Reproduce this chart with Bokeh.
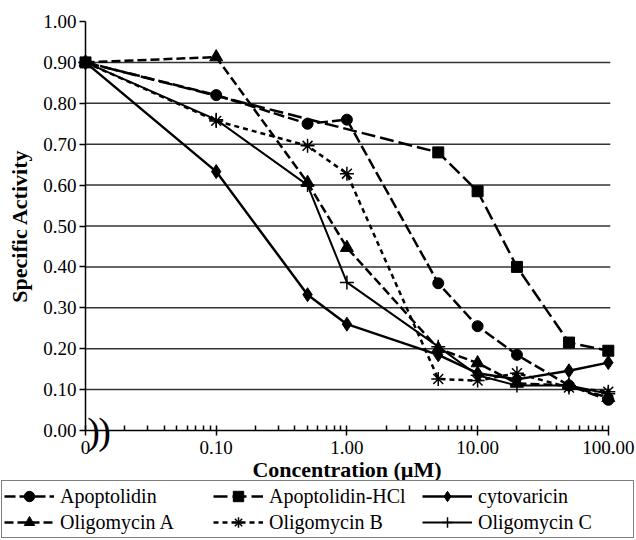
from bokeh.plotting import figure
from bokeh.models import (FixedTicker, Legend, LegendItem, Label, Range1d,
                          PrintfTickFormatter)
from bokeh.embed import file_html
from bokeh.resources import INLINE

# ---------------- data ----------------
x_major_ticks = [0.01, 0.1, 1, 10, 100]
x_tick_labels = ["0", "0.10", "1.00", "10.00", "100.00"]
zero_pos = 0.01          # log-axis position standing in for concentration 0
y_ticks = [0.0, 0.1, 0.2, 0.3, 0.4, 0.5, 0.6, 0.7, 0.8, 0.9, 1.0]
y_grid = [0.1, 0.2, 0.3, 0.4, 0.5, 0.6, 0.7, 0.8, 0.9]

conc_all = [0, 0.1, 0.5, 1, 5, 10, 20, 50, 100]
conc_hcl = [0, 5, 10, 20, 50, 100]

apoptolidin = [0.90, 0.82, 0.75, 0.76, 0.36, 0.255, 0.185, 0.11, 0.075]
apoptolidin_hcl = [0.90, 0.68, 0.585, 0.40, 0.215, 0.195]
cytovaricin = [0.90, 0.633, 0.332, 0.26, 0.185, 0.14, 0.125, 0.146, 0.166]
oligomycin_a = [0.90, 0.913, 0.606, 0.447, 0.20, 0.165, 0.115, 0.11, 0.08]
oligomycin_b = [0.90, 0.757, 0.696, 0.628, 0.126, 0.122, 0.14, 0.105, 0.095]
oligomycin_c = [0.90, 0.76, 0.60, 0.362, 0.205, 0.135, 0.11, 0.11, 0.09]

series = [
    ("Apoptolidin", conc_all, apoptolidin, "circle", 11, "11 4", 2.5),
    ("Apoptolidin-HCl", conc_hcl, apoptolidin_hcl, "square", 11, "14 5", 2.5),
    ("cytovaricin", conc_all, cytovaricin, "diamond", 14, "solid", 2.5),
    ("Oligomycin A", conc_all, oligomycin_a, "triangle", 13, "9 4", 2.5),
    ("Oligomycin B", conc_all, oligomycin_b, "asterisk", 14, "5 4", 2.5),
    ("Oligomycin C", conc_all, oligomycin_c, "cross", 14, "solid", 2.0),
]

SERIF = "Liberation Serif"

# ---------------- layout constants (pixels) ----------------
W, H = 636, 540
AXIS_X = 85          # pixel column of the y axis (x = zero_pos)
DECADE = 130.7       # pixels per decade on the x axis
TOP = 21             # pixel row of y = 1.0
UNIT = 409           # pixels per 1.0 on the y axis

x_start = zero_pos * 10 ** (-AXIS_X / DECADE)
x_end = zero_pos * 10 ** ((W - AXIS_X) / DECADE)
y_end = 1.0 + TOP / UNIT
y_start = 1.0 - (H - TOP) / UNIT
grid_end = x_major_ticks[-1] * 10 ** (2 / DECADE)

p = figure(width=W, height=H, x_axis_type="log",
           x_range=Range1d(x_start, x_end), y_range=Range1d(y_start, y_end),
           output_backend="svg", toolbar_location=None,
           min_border=0, min_border_left=0, min_border_right=0,
           min_border_top=0, min_border_bottom=0)
p.outline_line_color = None
p.background_fill_color = "white"
p.xgrid.visible = False
p.ygrid.visible = False

# horizontal grid lines limited to the plotting area
p.segment(x0=[zero_pos] * len(y_grid), x1=[grid_end] * len(y_grid),
          y0=y_grid, y1=y_grid, line_color="#333333", line_width=1.5)

items = []
for name, xs_raw, ys, marker, size, dash, lw in series:
    xs = [zero_pos if c == 0 else c for c in xs_raw]
    rl = p.line(xs, ys, line_color="black", line_width=lw, line_dash=dash)
    rm = p.scatter(xs, ys, marker=marker, size=size, fill_color="black",
                   line_color="black",
                   line_width=1.5 if marker in ("asterisk", "cross") else 1)
    items.append(LegendItem(label=name, renderers=[rl, rm]))

# axes
xa = p.xaxis[0]
xa.fixed_location = 0
xa.bounds = (x_major_ticks[0], x_major_ticks[-1])
xa.ticker = FixedTicker(
    ticks=x_major_ticks,
    minor_ticks=[m * d for d in (0.01, 0.1, 1, 10) for m in range(2, 10)])
xa.major_label_overrides = dict(zip(x_major_ticks, x_tick_labels))
xa.major_tick_in = 5
xa.major_tick_out = 5
xa.minor_tick_in = 5
xa.minor_tick_out = 0
xa.axis_label = "Concentration (µM)"
xa.major_label_standoff = 5
xa.axis_label_standoff = 0

ya = p.yaxis[0]
ya.fixed_location = zero_pos
ya.bounds = (y_ticks[0], y_ticks[-1])
ya.ticker = FixedTicker(ticks=y_ticks, minor_ticks=[])
ya.formatter = PrintfTickFormatter(format="%.2f")
ya.major_tick_in = 0
ya.major_tick_out = 6
ya.axis_label = "Specific Activity"
ya.major_label_standoff = 3
ya.axis_label_standoff = 8

for ax in (xa, ya):
    ax.axis_line_color = "black"
    ax.axis_line_width = 1.5
    ax.major_tick_line_color = "black"
    ax.major_tick_line_width = 1.5
    ax.minor_tick_line_color = "black"
    ax.minor_tick_line_width = 1.5
    ax.major_label_text_font = SERIF
    ax.major_label_text_font_size = "19px"
    ax.major_label_text_color = "black"
    ax.axis_label_text_font = SERIF
    ax.axis_label_text_font_style = "bold"
    ax.axis_label_text_font_size = "22px"
    ax.axis_label_text_color = "black"

# axis break marks
for off in (8, 19):
    p.add_layout(Label(x=zero_pos, y=0, x_offset=off, y_offset=0, text=")",
                       text_font=SERIF, text_font_size="38px",
                       text_align="center", text_baseline="middle",
                       text_color="black"))

legend = Legend(items=items, orientation="horizontal", ncols=3,
                location=(1, 2),
                label_text_font=SERIF, label_text_font_size="20px",
                label_text_color="black",
                glyph_width=50, glyph_height=26, label_height=26,
                label_standoff=6, label_width=153, spacing=0, padding=2,
                margin=0, border_line_color="black", border_line_width=1.2,
                background_fill_color="white", background_fill_alpha=1)
p.add_layout(legend, "center")

open("out.html", "w").write(file_html(p, INLINE))
